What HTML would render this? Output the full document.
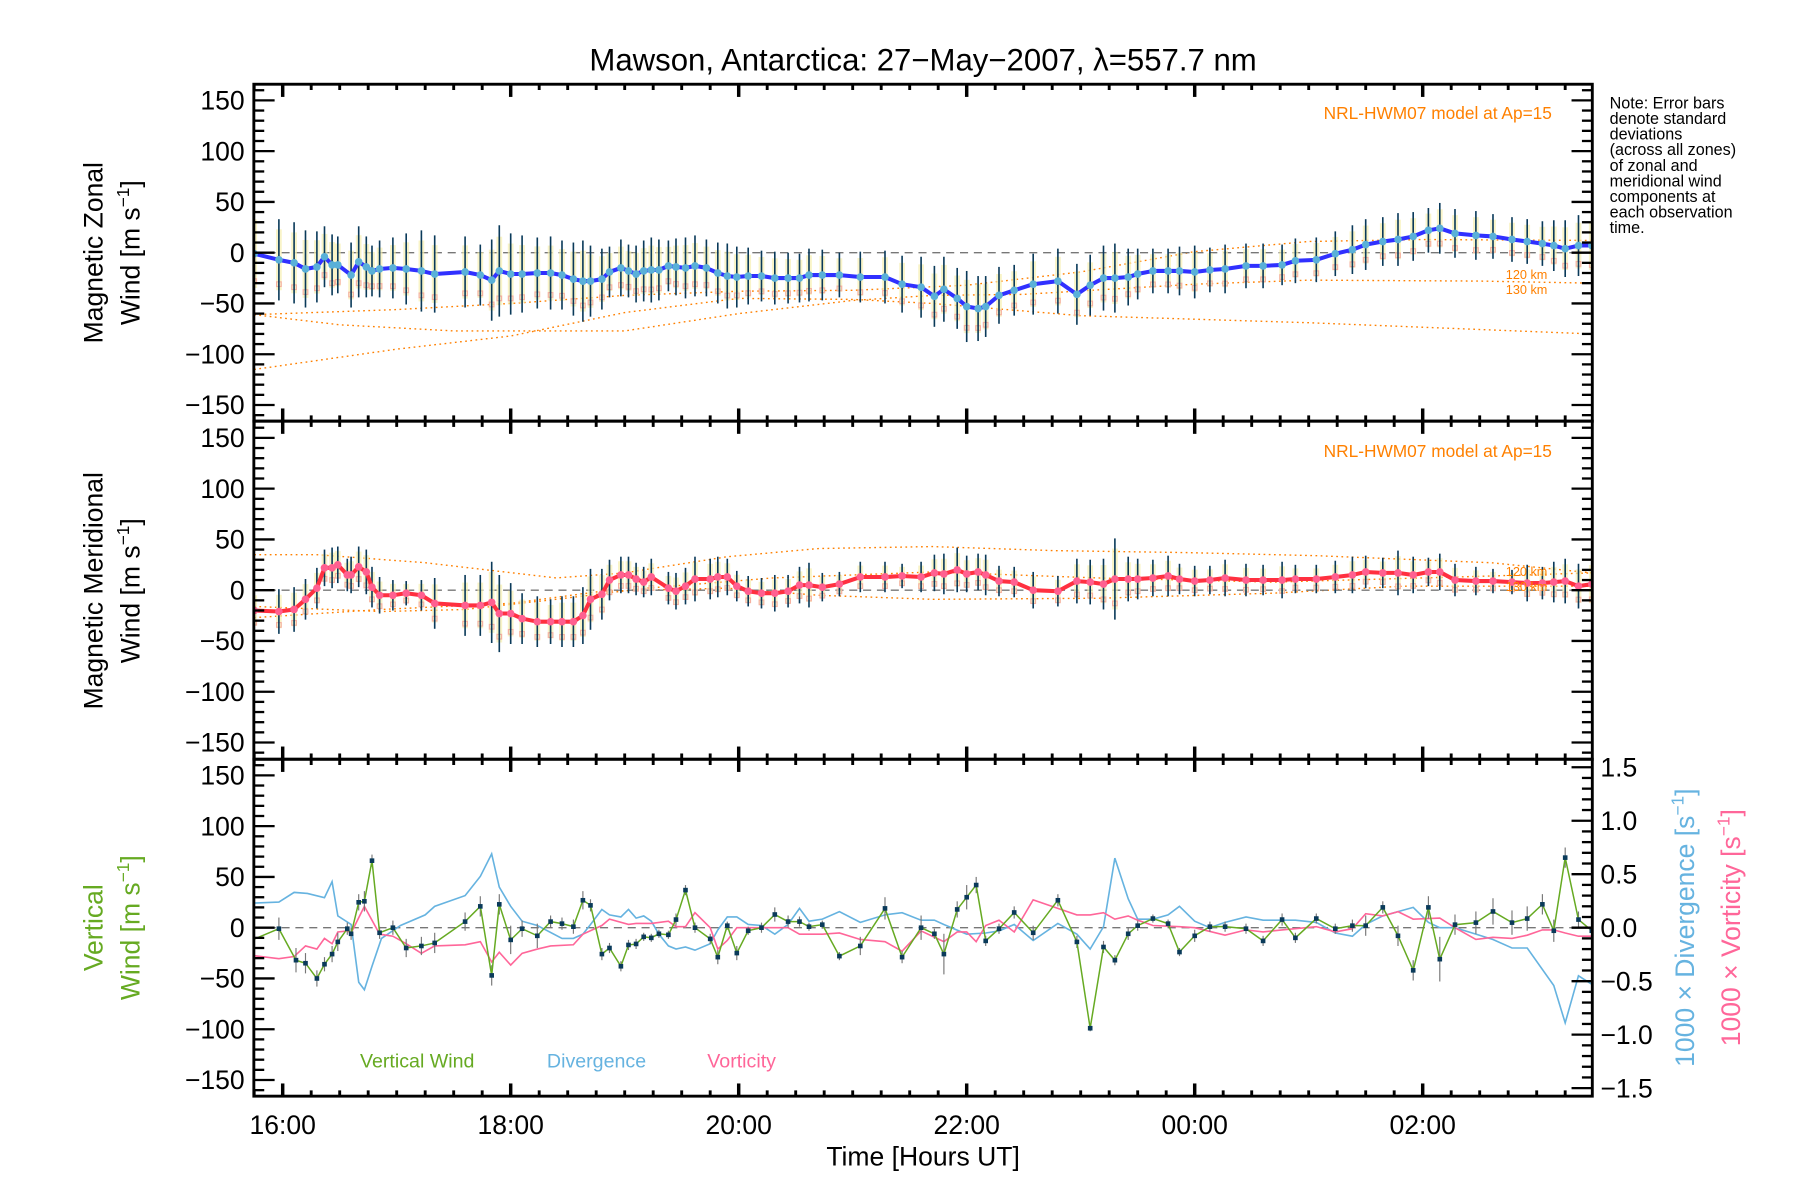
<!DOCTYPE html>
<html><head><meta charset="utf-8"><style>
html,body{margin:0;padding:0;background:#fff;}
svg{display:block;font-family:"Liberation Sans",sans-serif;}
</style></head><body>
<svg id="chart" width="1800" height="1200" viewBox="0 0 1560 1040" xmlns="http://www.w3.org/2000/svg">
<rect x="0" y="0" width="1560" height="1040" fill="#fff"/>
<g id="layer"></g>
</svg>
<script>
// ---- data (time in minutes after 16:00 UT) ----
const zonalTime = [-15,-2,6,12,18,22,26,29,36,40,44,47,51,58,65,73,80,96,104,110,114,120,126,134,141,147,153,158,162,168,172,178,182,186,190,194,198,203,207,212,217,223,229,234,239,245,252,259,266,272,277,284,293,304,317,326,336,
343,348,355,360,366,370,377,385,395,408,418,425,432,438,445,450,458,466,472,480,488,496,507,516,526,533,544,554,563,570,579,587,595,603,609,617,628,637,647,655,663,669,675,682,689];
const zonalWind = [-1,-7,-10,-16,-14,-4,-12,-12,-22,-9,-14,-18,-16,-15,-16,-18,-21,-19,-22,-27,-18,-21,-21,-20,-20,-22,-26,-28,-28,-26,-19,-15,-18,-21,-18,-17,-17,-13,-14,-15,-13,-15,-20,-23,-24,-23,-23,-25,-25,-25,-22,-22,-22,-24,-24,-31,-34,
-43,-36,-45,-53,-55,-53,-42,-37,-31,-28,-41,-32,-25,-25,-24,-21,-18,-18,-18,-19,-17,-16,-13,-13,-12,-8,-7,-1,3,8,11,13,16,22,24,19,17,16,13,11,9,7,4,7,7];
const zonalErr = [45,40,40,38,35,30,30,28,32,35,30,25,28,30,35,40,38,35,30,40,45,40,38,35,36,34,36,40,35,30,25,28,26,28,30,32,30,25,28,30,30,28,30,32,30,28,25,26,25,24,26,25,22,25,26,28,30,
30,32,30,35,32,30,28,25,30,32,30,30,32,34,28,25,22,22,24,26,22,24,22,22,20,22,22,22,24,25,24,26,24,22,25,24,24,22,22,22,22,25,28,30,32];
const meridTime = [-15,-2,6,12,18,22,26,29,34,36,40,44,47,51,58,65,73,80,96,104,110,114,120,126,134,141,147,153,158,162,168,172,178,182,186,190,194,203,207,212,217,225,229,234,239,245,252,259,266,272,277,284,293,304,317,326,336,
343,348,355,360,366,370,377,385,395,408,418,425,432,438,445,450,458,466,472,480,488,496,507,516,526,533,544,554,563,570,579,587,595,603,609,617,628,637,647,655,663,669,675,682,689];
const meridWind = [-20,-21,-19,-9,2,22,22,25,15,15,23,18,3,-5,-5,-3,-5,-13,-15,-15,-12,-23,-23,-28,-31,-31,-31,-31,-25,-9,-4,10,15,15,11,8,13,2,-1,4,11,11,13,13,4,-1,-3,-3,-1,5,5,3,6,13,13,14,13,
17,16,20,16,18,15,9,8,0,-1,9,8,6,11,11,11,12,14,11,9,10,12,10,10,10,11,11,13,15,18,17,17,15,18,18,10,9,9,8,7,7,8,9,4,6];
const meridErr = [20,22,22,20,20,18,20,18,16,18,20,22,20,18,15,12,15,25,30,30,40,38,30,25,25,22,25,25,28,30,25,20,18,18,16,15,18,16,18,18,22,20,20,18,15,15,15,18,16,18,22,14,12,15,15,12,15,
18,20,22,18,18,20,15,15,18,15,22,22,25,40,22,20,18,20,15,15,14,18,16,15,18,14,14,16,18,16,15,22,18,14,18,16,14,12,12,18,16,20,22,22,25];
const vertTime = [-16,-2,7,12,18,22,26,29,34,36,40,43,47,51,58,65,73,80,96,104,110,114,120,126,134,141,147,153,158,162,168,172,178,182,186,190,194,198,203,207,212,217,225,229,234,239,245,252,259,266,272,277,284,293,304,317,326,336,
343,348,355,360,365,370,377,385,395,408,418,425,432,438,445,450,458,466,472,480,488,496,507,516,526,533,544,554,563,570,579,587,595,603,609,617,628,637,647,655,663,669,675,682,689];
const vertWind = [-12,-1,-32,-35,-50,-36,-26,-14,-1,-6,25,26,66,-5,0,-20,-18,-15,6,21,-47,23,-12,-1,-8,6,4,1,27,22,-26,-20,-38,-17,-16,-9,-10,-6,-7,8,37,0,-11,-29,2,-25,-3,0,13,6,6,1,3,-28,-18,19,-29,0,
-6,-26,18,30,42,-13,-1,15,-5,27,-14,-99,-19,-32,-6,2,9,4,-24,-8,1,1,-1,-13,8,-10,9,-1,2,2,20,-8,-42,20,-31,3,5,16,5,9,23,-3,69,8,-3];
const vertErr = [0,11,12,10,8,7,8,9,6,6,8,10,6,6,7,9,9,10,9,10,10,10,14,8,12,6,6,7,9,6,6,5,5,5,5,4,4,4,4,6,5,5,5,7,4,7,4,5,7,6,5,4,4,4,9,11,6,12,
5,20,8,12,8,5,5,6,7,6,6,3,6,5,6,5,4,4,4,6,5,5,5,5,6,5,5,5,6,10,6,10,10,11,22,10,11,13,12,12,10,11,10,8,5];
const divTime = [-16,-2,6,13,22,26,29,36,40,43,47,52,62,75,80,96,104,110,114,120,126,134,147,153,158,162,168,172,178,182,186,190,194,198,203,207,212,217,225,229,234,239,245,252,259,266,272,277,284,293,304,317,326,336,
343,348,360,370,377,385,395,408,418,425,432,438,445,450,458,466,472,480,488,496,507,516,533,544,554,563,570,579,587,595,603,609,617,628,637,647,655,669,675,682,689];
const divergence = [0.23,0.24,0.33,0.32,0.28,0.43,0.11,0.03,-0.51,-0.58,-0.36,-0.10,0.02,0.12,0.20,0.30,0.48,0.69,0.38,0.20,0.06,0.02,-0.10,-0.10,-0.06,0.03,0.17,0.12,0.10,0.17,0.09,0.11,0.06,-0.06,-0.17,-0.20,-0.18,-0.21,-0.15,-0.02,0.10,0.10,0.03,0.02,-0.06,0.03,0.18,0.06,0.08,0.15,0.05,0.12,0.14,0.07,
0.07,0.03,-0.06,-0.05,-0.03,0.03,-0.12,0.04,-0.06,-0.20,0.01,0.65,0.27,0.08,0.08,0.12,0.20,0.06,0.00,0.05,0.10,0.07,0.07,0.05,-0.05,-0.08,0.03,0.11,0.15,0.19,0.05,0.00,0.00,-0.06,-0.11,-0.19,-0.19,-0.54,-0.89,-0.45,-0.53];
const vortTime = [-16,-2,6,12,18,22,26,29,34,36,43,51,58,65,73,80,96,104,110,114,120,126,134,141,153,158,168,172,182,186,194,203,207,212,217,225,229,234,239,266,272,284,293,304,317,326,336,
348,355,360,365,370,377,385,395,408,418,425,432,438,445,450,458,472,480,496,507,516,526,544,554,563,570,579,587,595,609,617,628,637,647,655,663,669,675,682,689];
const vorticity = [-0.26,-0.29,-0.27,-0.17,-0.20,-0.10,-0.15,-0.04,-0.03,-0.05,0.20,-0.06,-0.08,-0.15,-0.24,-0.17,-0.16,-0.13,-0.32,-0.23,-0.35,-0.24,-0.20,-0.17,-0.16,-0.06,0.02,0.08,0.03,0.04,0.04,0.06,0.01,0.01,0.14,0.00,-0.20,-0.12,0.00,0.00,-0.06,-0.06,-0.05,-0.11,-0.13,-0.22,-0.03,
-0.13,-0.04,-0.04,-0.13,0.02,0.07,-0.04,0.26,0.18,0.12,0.12,0.14,0.08,0.11,0.07,0.02,0.01,0.00,-0.07,-0.02,-0.04,-0.02,0.01,-0.04,-0.01,0.13,0.11,0.15,0.08,0.09,0.00,-0.11,-0.09,-0.10,-0.07,-0.02,-0.02,-0.05,-0.08,-0.08];
// HWM07 model curves
const zModelTime = [-15,60,120,180,240,300,360,420,480,540,600,689];
const zModel1 = [-61,-56,-50,-42,-38,-37,-32,-19,1,11,13,12];
const zModel2T = [-15,30,90,180,240,300,342,390,480,540,630,689];
const zModel2 = [-61,-71,-77,-77,-60,-47,-42,-41,-31,-27,-28,-30];
const zModel3T = [-15,60,120,180,240,300,342,420,540,689];
const zModel3 = [-115,-95,-82,-59,-45,-46,-50,-62,-69,-80];
const mModel1T = [-15,18,75,144,180,234,282,342,406,475,544,636,689];
const mModel1 = [35,35,27,12,17,33,41,43,39,37,34,27,17];
const mModel2T = [-15,52,96,144,192,258,342,429,521,636,689];
const mModel2 = [-16,-21,-19,-9,2,12,18,12,8,14,17];
const mModel3T = [-15,52,120,168,234,282,342,429,521,590,689];
const mModel3 = [-27,-19,-13,-1,2,-5,-9,-8,-3,4,4];
const yTickVals = [150,100,50,0,-50,-100,-150];
const rightTickVals = [1.5,1.0,0.5,0.0,-0.5,-1.0,-1.5];
const xTickLabels = ["16:00","18:00","20:00","22:00","00:00","02:00"];
const xTickMinutes = [0,120,240,360,480,600];

// ---- axes ----
const X0=220, X1=1380;
const xs = t => 245 + t/60*98.8;
const panels = [{top:73,bot:365,mid:219},{top:365,bot:658,mid:511.5},{top:658,bot:950,mid:804}];
const ys = (p,v) => panels[p].mid - v*0.88;
const yr = v => 804 - v*92.7;
const NS="http://www.w3.org/2000/svg";
const layer=document.getElementById('layer');
function el(tag,attrs,parent){const e=document.createElementNS(NS,tag);for(const k in attrs)e.setAttribute(k,attrs[k]);(parent||layer).appendChild(e);return e;}
function txt(s,attrs,parent){const e=el('text',attrs,parent);e.textContent=s;return e;}
function path(ts,vs,f){return ts.map((t,i)=>(i?'L':'M')+xs(t).toFixed(1)+','+f(vs[i]).toFixed(1)).join('');}
const clipDefs=el('defs',{});
panels.forEach((p,i)=>{const c=el('clipPath',{id:'clip'+i},clipDefs);el('rect',{x:X0,y:p.top,width:X1-X0,height:p.bot-p.top},c);});

// title
let t=txt('Mawson, Antarctica: 27\u2212May\u22122007, \u03BB=557.7 nm',{x:800,y:61,'text-anchor':'middle','font-size':27});



// panel content
function modelLine(p,ts,vs,name){const e=el('path',{d:path(ts,vs,v=>ys(p,v)),fill:'none',stroke:'#ff8000','stroke-width':1.2,'stroke-dasharray':'1.5,3','clip-path':'url(#clip'+p+')'});

}
function zeroLine(p){const e=el('line',{x1:X0,x2:X1,y1:ys(p,0),y2:ys(p,0),stroke:'#777','stroke-width':1.2,'stroke-dasharray':'7,5'});

}
function windSeries(p,ts,vs,errs,lineCol,mkCol,name){
  const g=el('g',{'clip-path':'url(#clip'+p+')'});
  
  
  ts.forEach((tt,i)=>{const e=errs[i]||30;const x=xs(tt);
    const b=el('rect',{x:x-2.5,y:ys(p,vs[i]+e*0.75),width:5,height:e*1.5*0.88,fill:'#f6f0b0',opacity:0.7},g);
    
    
    const s=el('rect',{x:x-2,y:ys(p,vs[i]-e*0.6)-2,width:4,height:4,fill:'none',stroke:'#f5b0a0','stroke-width':1},g);
    
    
    const l=el('line',{x1:x,x2:x,y1:ys(p,vs[i]+e),y2:ys(p,vs[i]-e),stroke:'#0a3a5a','stroke-width':1.4},g);
    
    });
  const ln=el('path',{d:path(ts,vs,v=>ys(p,v)),fill:'none',stroke:lineCol,'stroke-width':3.5,'stroke-linejoin':'round'},g);
  
  
  ts.forEach((tt,i)=>{const c=el('circle',{cx:xs(tt),cy:ys(p,vs[i]),r:3.3,fill:mkCol},g);
    
    });
}
// panel 1
modelLine(0,zModelTime,zModel1,'model-zonal-a');
modelLine(0,zModel2T,zModel2,'model-zonal-b');
modelLine(0,zModel3T,zModel3,'model-zonal-c');
zeroLine(0);
windSeries(0,zonalTime,zonalWind,zonalErr,'#3030ff','#5ab0d8','zonal-wind');
// panel 2
modelLine(1,mModel1T,mModel1,'model-merid-a');
modelLine(1,mModel2T,mModel2,'model-merid-b');
modelLine(1,mModel3T,mModel3,'model-merid-c');
zeroLine(1);
windSeries(1,meridTime,meridWind,meridErr,'#ff3040','#ff6090','meridional-wind');
// panel 3
zeroLine(2);
(function(){
  const g=el('g',{'clip-path':'url(#clip2)'});
  
  
  const d=el('path',{d:path(divTime,divergence,yr),fill:'none',stroke:'#66b3e0','stroke-width':1.4},g);
  
  
  const v=el('path',{d:path(vortTime,vorticity,yr),fill:'none',stroke:'#ff6699','stroke-width':1.4},g);
  
  
  vertTime.forEach((tt,i)=>{const e=vertErr[i];if(!e)return;
    const l=el('line',{x1:xs(tt),x2:xs(tt),y1:ys(2,vertWind[i]+e),y2:ys(2,vertWind[i]-e),stroke:'#777','stroke-width':1},g);
    
    });
  const w=el('path',{d:path(vertTime,vertWind,v=>ys(2,v)),fill:'none',stroke:'#66aa22','stroke-width':1.3},g);
  
  
  vertTime.forEach((tt,i)=>{const r=el('rect',{x:xs(tt)-2,y:ys(2,vertWind[i])-2,width:4,height:4,fill:'#0a3a5a'},g);
    
    });
})();

// frames, ticks
panels.forEach((p,pi)=>{
  const fr=el('rect',{x:X0,y:p.top,width:X1-X0,height:p.bot-p.top,fill:'none',stroke:'#000','stroke-width':2.5});
  
  
  for(let v=-160;v<=160;v+=10){const y=ys(pi,v);const maj=v%50===0;const L=maj?18:9;
    el('line',{x1:X0,x2:X0+L,y1:y,y2:y,stroke:'#000','stroke-width':2});
    if(pi<2) el('line',{x1:X1,x2:X1-L,y1:y,y2:y,stroke:'#000','stroke-width':2});}
  for(let m=-15;m<=689;m+=15){const x=xs(m);const maj=m%120===0;const L=maj?11:5;
    el('line',{x1:x,x2:x,y1:p.bot,y2:p.bot-L,stroke:'#000','stroke-width':maj?3:2.5});
    el('line',{x1:x,x2:x,y1:p.top,y2:p.top+L,stroke:'#000','stroke-width':maj?3:2.5});}
  yTickVals.forEach(v=>{const e=txt(String(v).replace('-','\u2212'),{x:212,y:ys(pi,v)+8,'text-anchor':'end','font-size':23});
    
    });
});
for(let v=-1.5;v<=1.501;v+=0.1){const y=yr(v);const maj=Math.abs(Math.round(v*10))%5===0;const L=maj?18:9;
  el('line',{x1:X1,x2:X1-L,y1:y,y2:y,stroke:'#000','stroke-width':2});}
rightTickVals.forEach(v=>{const e=txt(v.toFixed(1).replace('-','\u2212'),{x:1387,y:yr(v)+8,'font-size':23});
  
  });
xTickLabels.forEach((s,i)=>{const e=txt(s,{x:xs(xTickMinutes[i]),y:983,'text-anchor':'middle','font-size':23});
  
  });
</script>
<svg width="0" height="0"></svg>
<div style="position:absolute;left:0;top:0;width:1800px;height:1200px;pointer-events:none">
<svg width="1800" height="1200" viewBox="0 0 1560 1040" xmlns="http://www.w3.org/2000/svg" style="font-family:'Liberation Sans',sans-serif">
<text x="800" y="1010" text-anchor="middle" font-size="23">Time [Hours UT]</text>
<text transform="translate(89,219) rotate(-90)" text-anchor="middle" font-size="23">Magnetic Zonal</text>
<text transform="translate(121,219) rotate(-90)" text-anchor="middle" font-size="23">Wind [m s<tspan dy="-9" font-size="15">−1</tspan><tspan dy="9">]</tspan></text>
<text transform="translate(89,512) rotate(-90)" text-anchor="middle" font-size="23">Magnetic Meridional</text>
<text transform="translate(121,512) rotate(-90)" text-anchor="middle" font-size="23">Wind [m s<tspan dy="-9" font-size="15">−1</tspan><tspan dy="9">]</tspan></text>
<text transform="translate(89,804) rotate(-90)" text-anchor="middle" font-size="23" fill="#66aa22">Vertical</text>
<text transform="translate(121,804) rotate(-90)" text-anchor="middle" font-size="23" fill="#66aa22">Wind [m s<tspan dy="-9" font-size="15">−1</tspan><tspan dy="9">]</tspan></text>
<text transform="translate(1468,804) rotate(-90)" text-anchor="middle" font-size="23" fill="#66b3e0">1000 × Divergence [s<tspan dy="-9" font-size="15">−1</tspan><tspan dy="9">]</tspan></text>
<text transform="translate(1508,804) rotate(-90)" text-anchor="middle" font-size="23" fill="#ff6699">1000 × Vorticity [s<tspan dy="-9" font-size="15">−1</tspan><tspan dy="9">]</tspan></text>
<text x="1345" y="103" text-anchor="end" font-size="15" fill="#ff8000">NRL-HWM07 model at Ap=15</text>
<text x="1345" y="396" text-anchor="end" font-size="15" fill="#ff8000">NRL-HWM07 model at Ap=15</text>
<text x="1305" y="242" font-size="11" fill="#ff8000">120 km</text>
<text x="1305" y="255" font-size="11" fill="#ff8000">130 km</text>
<text x="1305" y="499" font-size="11" fill="#ff8000">120 km</text>
<text x="1305" y="512" font-size="11" fill="#ff8000">130 km</text>
<text x="312" y="925" font-size="17" fill="#66aa22">Vertical Wind</text>
<text x="474" y="925" font-size="17" fill="#66b3e0">Divergence</text>
<text x="613" y="925" font-size="17" fill="#ff6699">Vorticity</text>
<g font-size="14">
<text x="1395" y="94">Note: Error bars</text>
<text x="1395" y="107.5">denote standard</text>
<text x="1395" y="121">deviations</text>
<text x="1395" y="134.5">(across all zones)</text>
<text x="1395" y="148">of zonal and</text>
<text x="1395" y="161.5">meridional wind</text>
<text x="1395" y="175">components at</text>
<text x="1395" y="188.5">each observation</text>
<text x="1395" y="202">time.</text>
</g>
</svg></div>
</body></html>
